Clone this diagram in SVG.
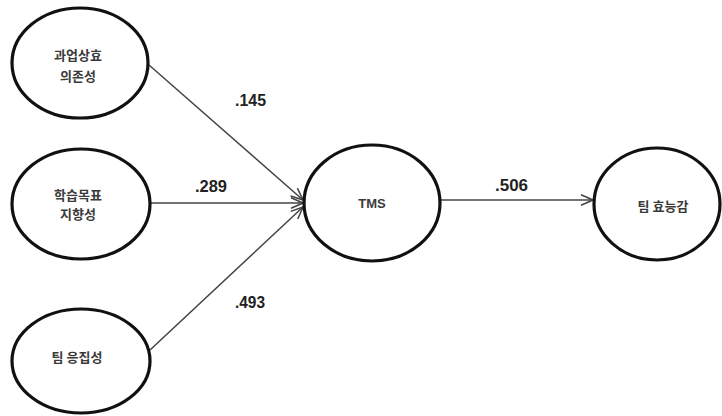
<svg xmlns="http://www.w3.org/2000/svg" width="722" height="416" viewBox="0 0 722 416">
<style>
.node ellipse{fill:#fff;stroke:#111;stroke-width:3.2}
.kt{font-family:"Noto Sans CJK KR","Noto Sans",sans-serif;font-size:13px;font-weight:bold;fill:#3a3a3a;text-anchor:middle}
.lt{font-family:"Liberation Sans",Arial,sans-serif;font-size:16px;font-weight:bold;fill:#222}
.edge{stroke:#444;stroke-width:1.5;fill:none;marker-end:url(#arr)}
</style>
<defs>
<marker id="arr" viewBox="0 0 14 12" refX="13" refY="6" markerWidth="14" markerHeight="12" markerUnits="userSpaceOnUse" orient="auto">
<path d="M1,0.8 L13,6 L1,11.2" fill="none" stroke="#444" stroke-width="1.5"/>
</marker>
</defs>
<g id="edges">
<line class="edge" x1="149" y1="65" x2="303" y2="200"/>
<line class="edge" x1="150" y1="203" x2="303" y2="203"/>
<line class="edge" x1="150" y1="350" x2="303" y2="207"/>
<line class="edge" x1="440" y1="200" x2="593" y2="200"/>
<text class="lt" x="235" y="106" textLength="31" lengthAdjust="spacingAndGlyphs">.145</text>
<text class="lt" x="195" y="192" textLength="32" lengthAdjust="spacingAndGlyphs">.289</text>
<text class="lt" x="235" y="308" textLength="30" lengthAdjust="spacingAndGlyphs">.493</text>
<text class="lt" x="495" y="191" textLength="33" lengthAdjust="spacingAndGlyphs">.506</text>
</g>
<g id="n1" class="node">
<ellipse cx="80" cy="63" rx="68" ry="55"/>
<text class="kt" x="78" y="60">과업상효</text>
<text class="kt" x="78" y="81">의존성</text>
</g>
<g id="n2" class="node">
<ellipse cx="81" cy="204" rx="69" ry="55"/>
<text class="kt" x="78" y="200">학습목표</text>
<text class="kt" x="78" y="219">지향성</text>
</g>
<g id="n3" class="node">
<ellipse cx="81" cy="361" rx="69" ry="52"/>
<text class="kt" x="77" y="362">팀 응집성</text>
</g>
<g id="n4" class="node">
<ellipse cx="372" cy="203" rx="68" ry="58"/>
<text class="kt" x="372" y="208" style="font-family:'Liberation Sans',Arial,sans-serif">TMS</text>
</g>
<g id="n5" class="node">
<ellipse cx="657" cy="204" rx="63" ry="56"/>
<text class="kt" x="663" y="211">팀 효능감</text>
</g>
</svg>
